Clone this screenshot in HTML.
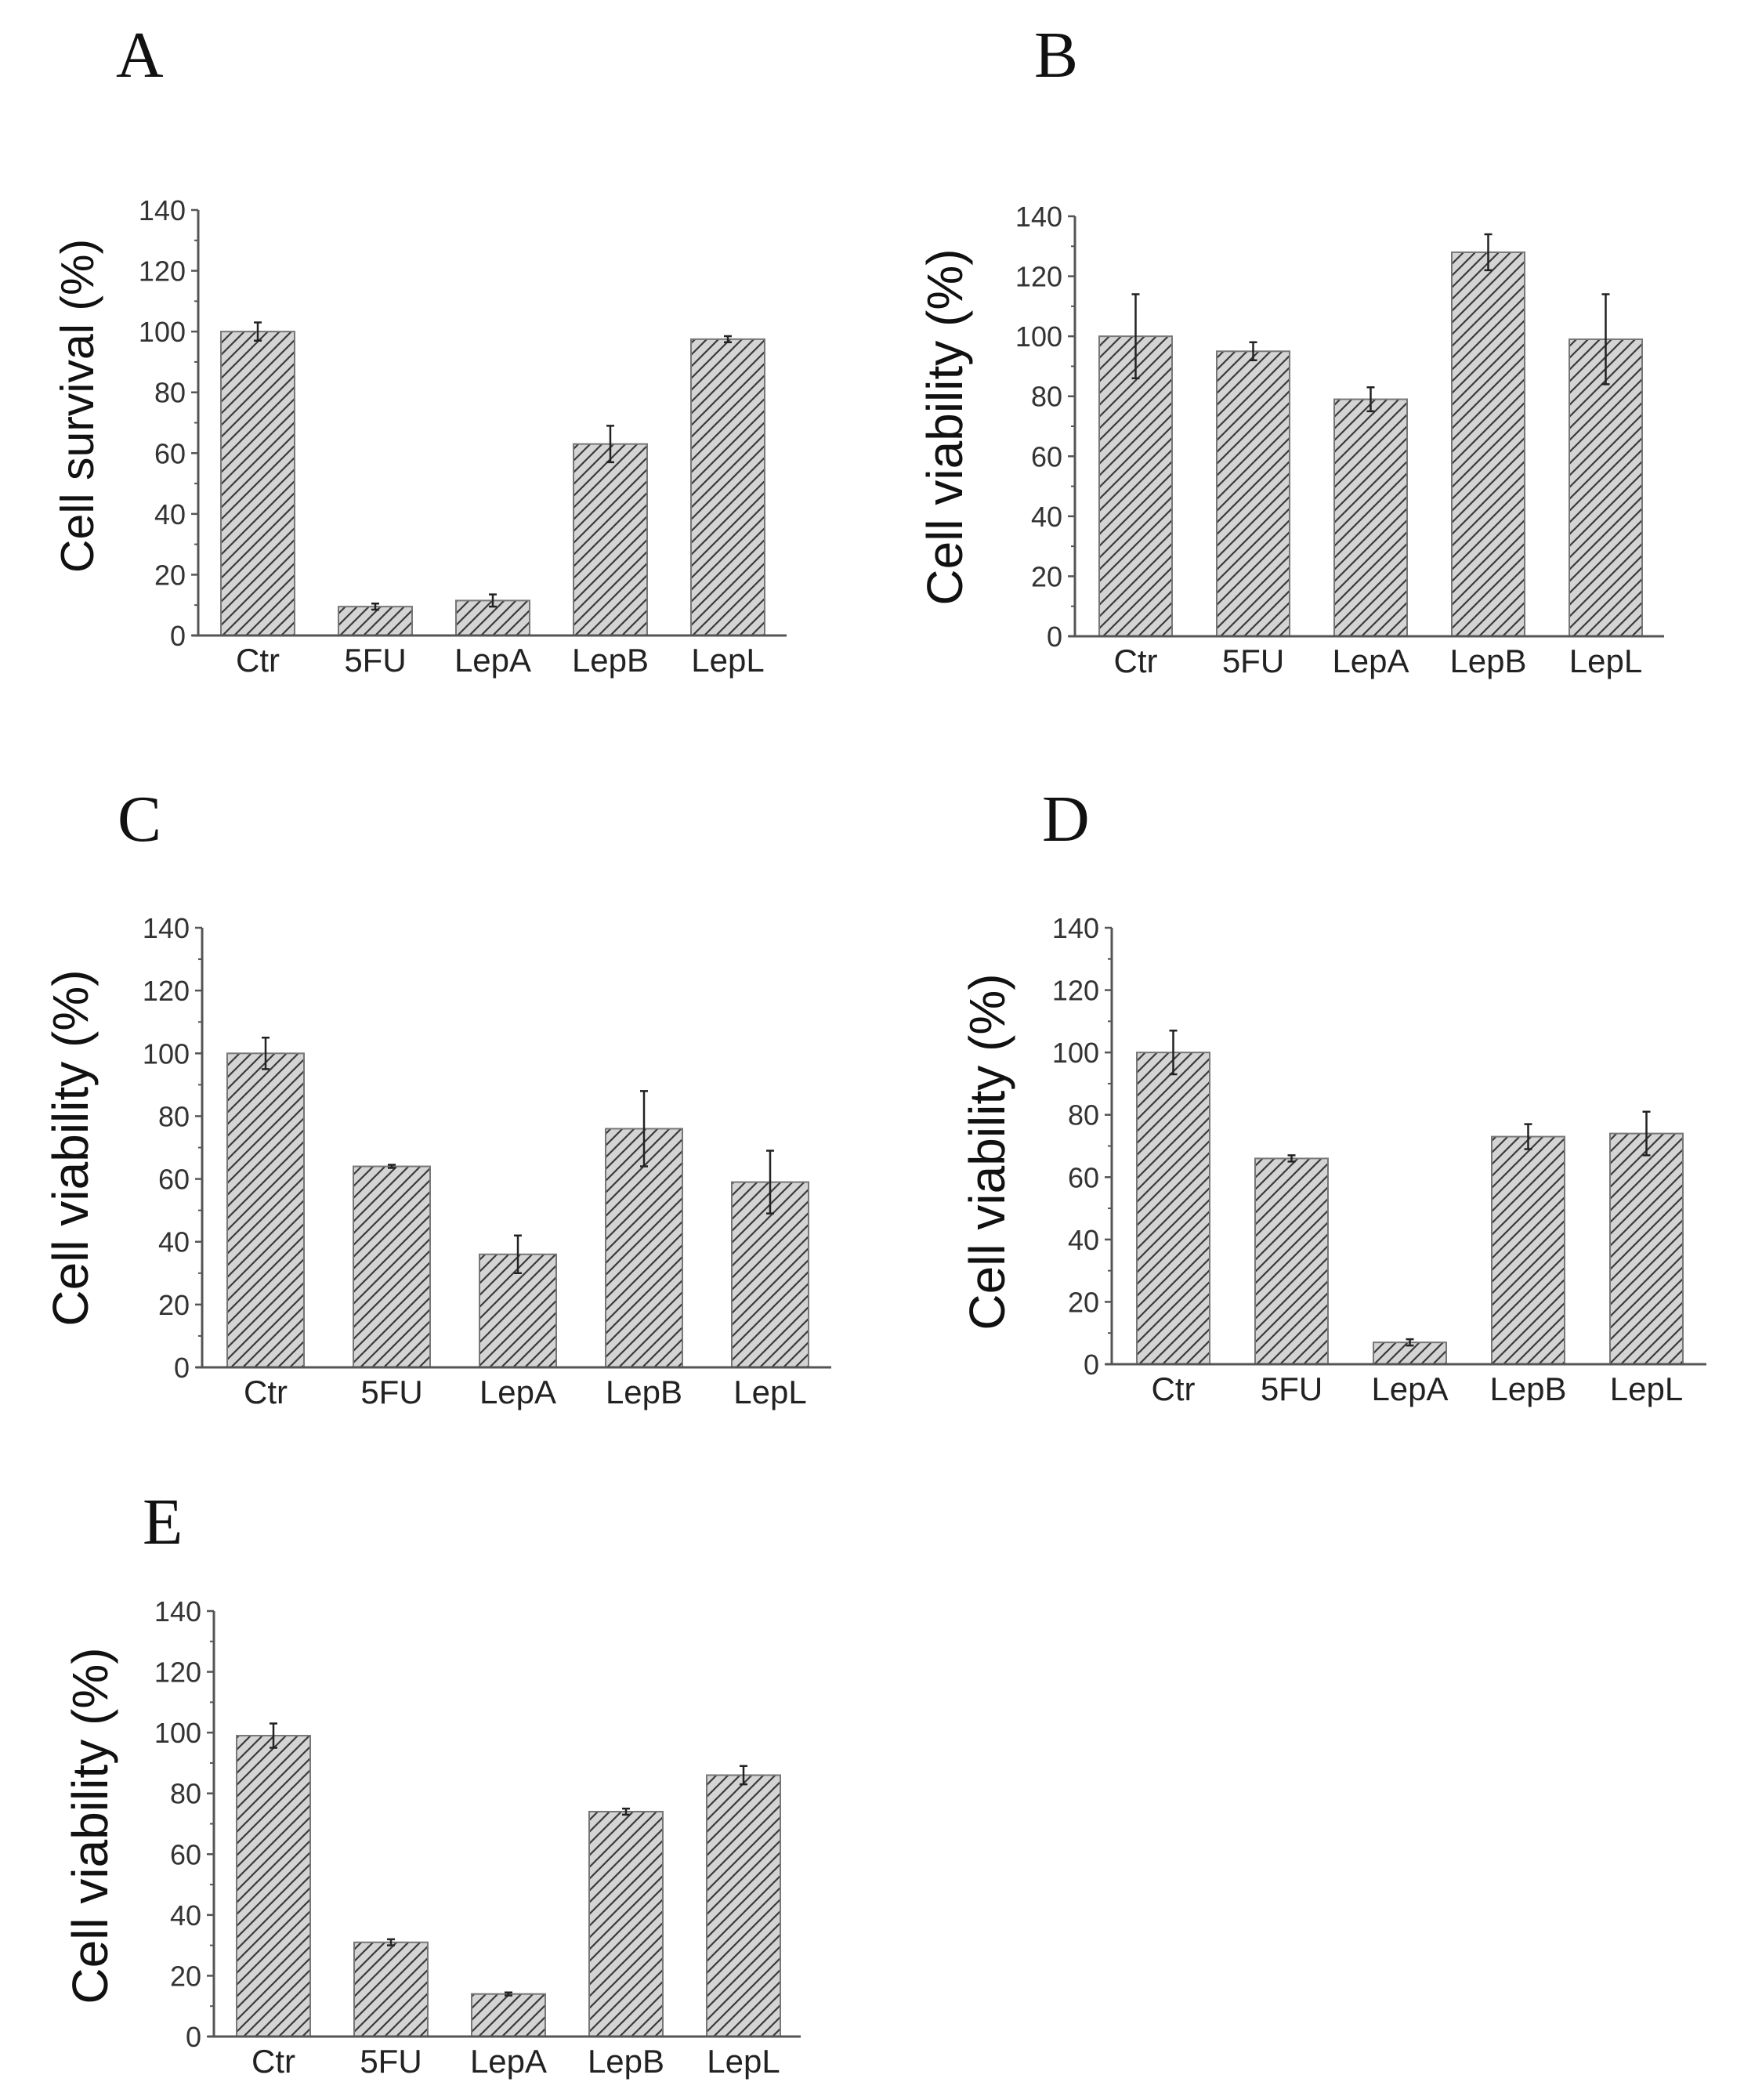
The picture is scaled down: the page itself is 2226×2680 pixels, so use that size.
<!DOCTYPE html>
<html><head><meta charset="utf-8"><style>
html,body{margin:0;padding:0;background:#fff;}
svg{display:block;}
</style></head><body>
<svg id="fig" width="2226" height="2680" viewBox="0 0 2226 2680" xmlns="http://www.w3.org/2000/svg">
<defs>
<pattern id="hatch" patternUnits="userSpaceOnUse" width="15" height="15" patternTransform="rotate(0)">
<rect width="15" height="15" fill="#d4d4d4"/>
<path d="M-2,17 L17,-2 M-4,4 L4,-4 M11,19 L19,11" stroke="#3a3a3a" stroke-width="2.2"/>
</pattern>
</defs>
</svg>
<script>
const categories = ["Ctr","5FU","LepA","LepB","LepL"];
const ticks = [0,20,40,60,80,100,120,140];
const valuesA = [100, 9.5, 11.5, 63, 97.5];
const errorsA = [3, 1, 2, 6, 1];
const valuesB = [100, 95, 79, 128, 99];
const errorsB = [14, 3, 4, 6, 15];
const valuesC = [100, 64, 36, 76, 59];
const errorsC = [5, 0.5, 6, 12, 10];
const valuesD = [100, 66, 7, 73, 74];
const errorsD = [7, 1, 1, 4, 7];
const valuesE = [99, 31, 14, 74, 86];
const errorsE = [4, 1, 0.5, 1, 3];

const NS = "http://www.w3.org/2000/svg";
const svg = document.getElementById('fig');
function mk(tag, attrs, parent){
  const e = document.createElementNS(NS, tag);
  for (const k in attrs) e.setAttribute(k, attrs[k]);
  (parent||svg).appendChild(e);
  return e;
}

function panel(p){
  const g = mk('g', {});
  
  
  const y = v => p.y0 - (v/140)*(p.y0 - p.y140);
  const bx = i => p.bx0 + i*p.pitch;
  // panel letter
  const L = mk('text', {x:p.lx, y:p.ly, 'font-family':'Liberation Serif, serif', 'font-size':84, fill:'#111'}, g);
  L.textContent = p.id;
  
  
  // bars
  p.values.forEach((v,i)=>{
    const r = mk('rect', {x:bx(i), y:y(v), width:p.bw, height:p.y0-y(v), fill:'url(#hatch)', stroke:'#777', 'stroke-width':2}, g);
    
    
    const cx = bx(i) + p.bw/2, e = p.errors[i];
    const eb = mk('path', {d:`M${cx},${y(v-e)} L${cx},${y(v+e)} M${cx-5},${y(v+e)} L${cx+5},${y(v+e)} M${cx-5},${y(v-e)} L${cx+5},${y(v-e)}`, stroke:'#222', 'stroke-width':2.5, fill:'none'}, g);
    
    
    const t = mk('text', {x:cx, y:p.y0+46, 'text-anchor':'middle', 'font-family':'Liberation Sans, sans-serif', 'font-size':42, fill:'#222'}, g);
    t.textContent = categories[i];
    
    
  });
  // axes
  const ya = mk('line', {x1:p.ax, y1:p.y140, x2:p.ax, y2:p.y0, stroke:'#555', 'stroke-width':3}, g);
  
  
  const xa = mk('line', {x1:p.ax-8, y1:p.y0, x2:p.xend, y2:p.y0, stroke:'#555', 'stroke-width':3}, g);
  
  
  for (let v=10; v<140; v+=20){
    mk('line', {x1:p.ax-5, y1:y(v), x2:p.ax, y2:y(v), stroke:'#555', 'stroke-width':2}, g);
  }
  ticks.forEach(v=>{
    mk('line', {x1:p.ax-9, y1:y(v), x2:p.ax, y2:y(v), stroke:'#555', 'stroke-width':2.5}, g);
    const t = mk('text', {x:p.ax-16, y:y(v)+13, 'text-anchor':'end', 'font-family':'Liberation Sans, sans-serif', 'font-size':36, fill:'#333'}, g);
    t.textContent = v;
    
    
  });
  const yt = mk('text', {x:0, y:0, transform:`translate(${p.tx},${p.ty}) rotate(-90)`, 'text-anchor':'middle', 'dominant-baseline':'central', 'font-family':'Liberation Sans, sans-serif', 'font-size':p.tfs, fill:'#111'}, g);
  yt.textContent = p.title;
  
  
}

panel({id:'A', values:valuesA, errors:errorsA, ax:253, y0:811, y140:268, bx0:282, pitch:150, bw:94, xend:1004, lx:148, ly:98, tx:99, ty:518, tfs:59, title:'Cell survival (%)'});
panel({id:'B', values:valuesB, errors:errorsB, ax:1372, y0:812, y140:276, bx0:1403, pitch:150, bw:93, xend:2124, lx:1320, ly:98, tx:1206, ty:545, tfs:64, title:'Cell viability (%)'});
panel({id:'C', values:valuesC, errors:errorsC, ax:258, y0:1745, y140:1184, bx0:290, pitch:161, bw:98, xend:1061, lx:150, ly:1073, tx:90, ty:1465, tfs:64, title:'Cell viability (%)'});
panel({id:'D', values:valuesD, errors:errorsD, ax:1419, y0:1741, y140:1184, bx0:1451, pitch:151, bw:93, xend:2178, lx:1330, ly:1073, tx:1260, ty:1470, tfs:64, title:'Cell viability (%)'});
panel({id:'E', values:valuesE, errors:errorsE, ax:273, y0:2599, y140:2056, bx0:302, pitch:150, bw:94, xend:1022, lx:182, ly:1970, tx:115, ty:2330, tfs:64, title:'Cell viability (%)'});
</script>
</body></html>
